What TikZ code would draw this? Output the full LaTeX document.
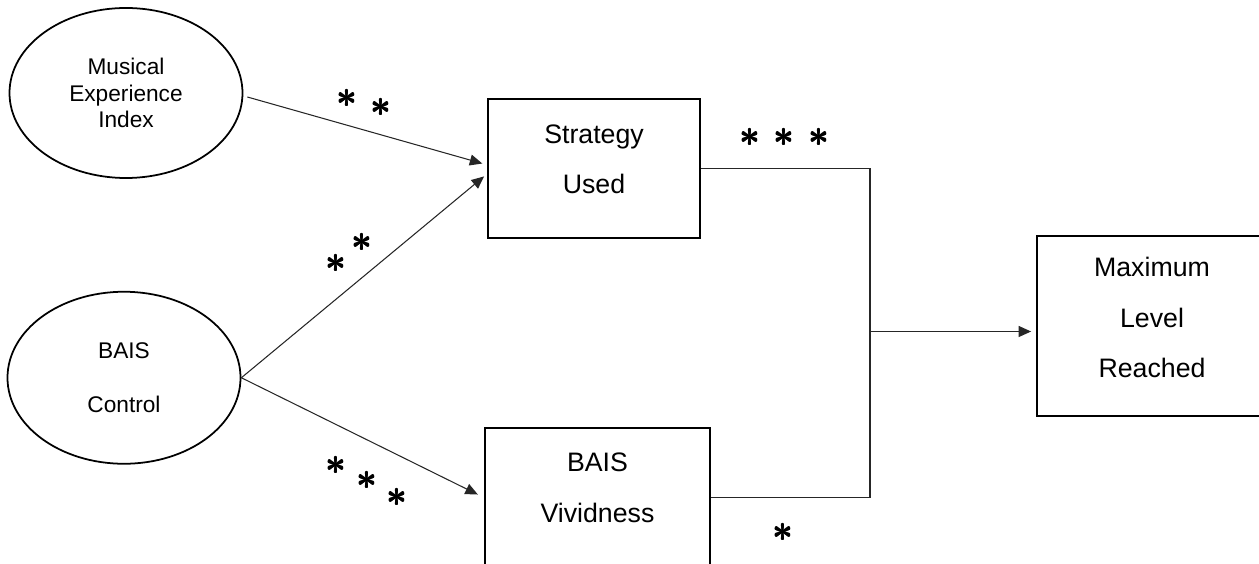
\documentclass[tikz,border=0pt]{standalone}
\usepackage{fontspec}
\setmainfont{Liberation Sans}
\usetikzlibrary{positioning,shapes.geometric,arrows.meta}
\newcommand{\heavyast}{\rlap{$\ast$}\rlap{\raisebox{0.5pt}{$\ast$}}\kern0.5pt$\ast$}

\begin{document}
\begin{tikzpicture}[
		ovalnode/.style={ellipse,draw,line width=1pt,inner sep=0pt,minimum width=4.66cm,minimum height=3.4cm,align=center,font=\fontsize{12.9}{15.3}\selectfont},
		boxnode/.style={rectangle,draw,line width=1pt,inner sep=0pt,align=center,font=\fontsize{15.2}{28.9}\selectfont},
		link/.style={line width=0.6pt,black!85},
		arr/.style={link,-{Triangle[length=0.25cm,width=0.22cm]}},
		signode/.style={inner sep=0pt,font=\fontsize{21}{21}\selectfont\boldmath}]
			\path[use as bounding box,clip] (0,0) rectangle (25.18,11.26);

			\node[ovalnode]																	(mei)	at (2.52,9.40)	{Musical\\Experience\\Index};
			\node[ovalnode,node distance=2.24cm,below=of mei,xshift=-0.04cm,minimum height=3.44cm,font=\fontsize{12.9}{31}\selectfont]	(ctrl)	{BAIS\\Control};

			\node[boxnode,anchor=north,minimum width=4.24cm,text height=1.9cm,text depth=0.88cm]	(strat)	at (11.88,9.30)	{Strategy\\Used};
			\node[boxnode,node distance=3.76cm,below=of strat,xshift=0.07cm,minimum width=4.5cm,text height=1.9cm,text depth=0.9cm]	(vivid)	{BAIS\\Vividness};
			\node[boxnode,anchor=north,minimum width=4.6cm,text height=2.84cm,text depth=0.76cm]		(maxl)	at (23.04,6.56)	{Maximum\\Level\\Reached};

			\coordinate (jn) at (17.40,4.63);

			\draw[arr,shorten >=0.1cm]	([xshift=0.08cm,yshift=-0.08cm]mei.east)	-- ([yshift=0.07cm]strat.west);
			\draw[arr,shorten >=0.08cm]	(ctrl.east)	-- ([yshift=-0.11cm]strat.west);
			\draw[arr,shorten >=0.14cm]	(ctrl.east)	-- (vivid.west);
			\draw[link]	(strat.east) -| (jn) |- (vivid.east);
			\draw[arr,shorten >=0.1cm]	(jn) -- (jn -| maxl.west);

			\foreach \px/\py [count=\k] in {6.94/9.30,7.62/9.12,6.72/6.00,7.24/6.42,6.72/1.96,7.34/1.66,7.94/1.32,15.00/8.52,15.68/8.52,16.38/8.52,15.66/0.62}{
				\node[signode] (s\k) at (\px,\py) {\heavyast};
			}
		\end{tikzpicture}
\end{document}
